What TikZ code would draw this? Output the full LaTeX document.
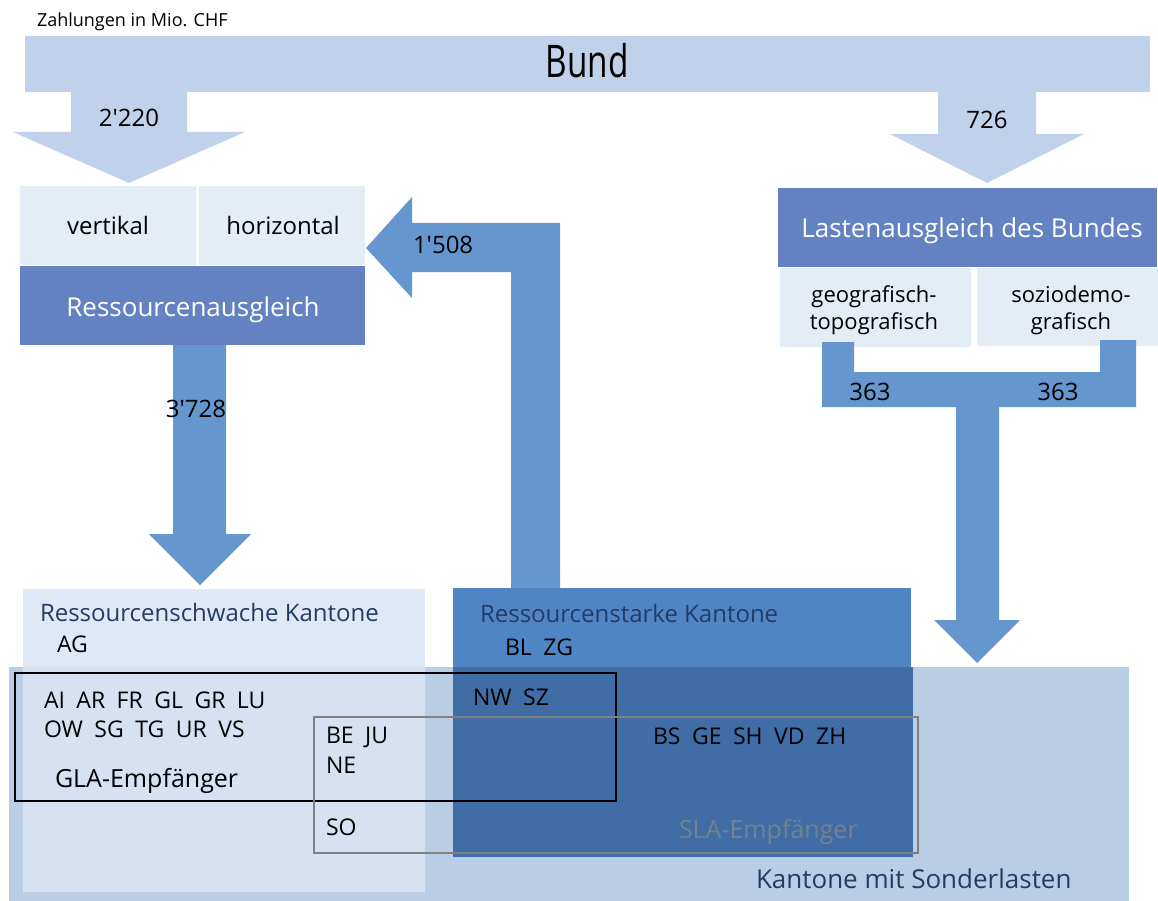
\documentclass[tikz,border=0pt]{standalone}
\usepackage{fontspec}
\setmainfont{Open Sans}[Ligatures=TeXOff]
\usetikzlibrary{fit}
\definecolor{bundc}{RGB}{192,210,235}
\definecolor{lightbox}{RGB}{228,236,246}
\definecolor{midbox}{RGB}{100,130,193}
\definecolor{arrowc}{RGB}{102,150,206}
\definecolor{schwach}{RGB}{223,233,245}
\definecolor{schwachov}{RGB}{214,226,242}
\definecolor{sonder}{RGB}{185,205,229}
\definecolor{stark}{RGB}{80,133,197}
\definecolor{starkov}{RGB}{64,109,166}
\definecolor{dtxt}{RGB}{35,60,100}
\definecolor{slatxt}{RGB}{118,128,142}
\definecolor{slaline}{RGB}{128,128,128}
\newcommand\kgap{\hspace{0.5em}}
\newcommand\fsz[1]{\fontsize{#1}{#1}\selectfont}
\tikzset{
  area/.style={inner sep=0pt, outer sep=0pt, draw=none},
  txt/.style={inner sep=0pt, outer sep=0pt, anchor=base},
  txtl/.style={inner sep=0pt, outer sep=0pt, anchor=base west},
  txtr/.style={inner sep=0pt, outer sep=0pt, anchor=base east},
}
\begin{document}
\begin{tikzpicture}[x=1pt, y=-1pt]
\useasboundingbox (0,0) rectangle (1158,901);
% ---------- top: Bund ----------
\node[txtl, font=\fsz{18}] (zahl) at (37,27) {Zahlungen in Mio. CHF};
\node[area, fill=bundc, fit={(25,36) (1150,92)}] (bund) {};
\node[txt, font=\fsz{45}] (bundt) at (587,78) {\scalebox{0.74}[1]{Bund}};
% light arrows from Bund
\fill[bundc] (71,91) -- (187,91) -- (187,132) -- (245,132) -- (129,183) -- (13,132) -- (71,132) -- cycle;
\fill[bundc] (938,91) -- (1036,91) -- (1036,134) -- (1084,134) -- (987,183) -- (890,134) -- (938,134) -- cycle;
\node[txt, font=\fsz{24}] (n2220) at (129,127) {2'220};
\node[txt, font=\fsz{24}] (n726) at (987,129) {726};
% ---------- Ressourcenausgleich ----------
\node[area, fill=lightbox, fit={(20,186) (196,265)}] (vert) {};
\node[area, fill=lightbox, fit={(199,186) (365,265)}] (hori) {};
\node[area, fill=midbox, fit={(20,266) (365,345)}] (ra) {};
\node[txt, font=\fsz{24}] at (108,235) {vertikal};
\node[txt, font=\fsz{24}] at (283,235) {horizontal};
\node[txt, font=\fsz{26}, text=white] at (193,316) {Ressourcenausgleich};
% ---------- Lastenausgleich ----------
\node[area, fill=midbox, fit={(778,188) (1157,267)}] (la) {};
\node[area, fill=lightbox, fit={(780,268) (971,347)}] (geo) {};
\node[area, fill=lightbox, fit={(977,268) (1158,346)}] (soz) {};
\node[txt, font=\fsz{26}, text=white] at (972,237) {Lastenausgleich des Bundes};
\node[txt, font=\fsz{22}] at (874,302) {geografisch-};
\node[txt, font=\fsz{22}] at (874,329) {topografisch};
\node[txt, font=\fsz{22}] at (1071,302) {soziodemo-};
\node[txt, font=\fsz{22}] at (1071,329) {grafisch};
% ---------- bottom areas ----------
\node[area, fill=sonder, fit={(9,667) (1129,901)}] (sonderl) {};
\node[area, fill=schwach, fit={(23,589) (425,667)}] (schw) {};
\node[area, fill=schwachov, fit={(23,667) (425,892)}] (schwov) {};
\node[area, fill=stark, fit={(453,588) (911,667)}] (stk) {};
\node[area, fill=starkov, fit={(453,667) (913,857)}] (stkov) {};
% ---------- dark arrows ----------
\fill[arrowc] (ra.south -| 173,0) -- (ra.south -| 226,0) -- (226,534) -- (251,534) -- (200,585) -- (149,534) -- (173,534) -- cycle;
\fill[arrowc] (stk.north -| 511,0) -- (511,272) -- (412,272) -- (412,298) -- (366,248) -- (412,197) -- (412,223) -- (560,223) -- (stk.north -| 560,0) -- cycle;
\fill[arrowc] (822,342) -- (854,342) -- (854,372) -- (1100,372) -- (1100,340) -- (1136,340) -- (1136,407) -- (999,407) -- (999,620) -- (1020,620) -- (977,663) -- (934,620) -- (956,620) -- (956,407) -- (822,407) -- cycle;
\node[txtr, font=\fsz{24}] at (226,417) {3'728};
\node[txtl, font=\fsz{24}] at (413,253) {1'508};
\node[txt, font=\fsz{24}] at (870,400) {363};
\node[txt, font=\fsz{24}] at (1058,400) {363};
% ---------- group frames ----------
\node[area, draw=black, line width=2.6pt, fit={(15,673) (616,801)}] (gla) {};
\node[area, draw=slaline, line width=2pt, fit={(314,717) (918,853)}] (sla) {};
% ---------- bottom texts ----------
\node[txtl, font=\fsz{24}, text=dtxt] at (40,621) {Ressourcenschwache Kantone};
\node[txtl, font=\fsz{23}] at (57,652) {AG};
\node[txtl, font=\fsz{23}] at (44,708) {AI\kgap AR\kgap FR\kgap GL\kgap GR\kgap LU};
\node[txtl, font=\fsz{23}] at (44,737) {OW\kgap SG\kgap TG\kgap UR\kgap VS};
\node[txtl, font=\fsz{25}] at (55,787) {GLA-Empfänger};
\node[txtl, font=\fsz{23}] at (326,743) {BE\kgap JU};
\node[txtl, font=\fsz{23}] at (326,773) {NE};
\node[txtl, font=\fsz{23}] at (326,835) {SO};
\node[txtl, font=\fsz{24}, text=dtxt] at (480,622) {Ressourcenstarke Kantone};
\node[txtl, font=\fsz{23}] at (505,655) {BL\kgap ZG};
\node[txtl, font=\fsz{23}] at (473,705) {NW\kgap SZ};
\node[txtl, font=\fsz{23}] at (653,744) {BS\kgap GE\kgap SH\kgap VD\kgap ZH};
\node[txtl, font=\fsz{25}, text=slatxt] at (679,838) {SLA-Empfänger};
\node[txtl, font=\fsz{26}, text=dtxt] at (756,888) {Kantone mit Sonderlasten};
\end{tikzpicture}
\end{document}
